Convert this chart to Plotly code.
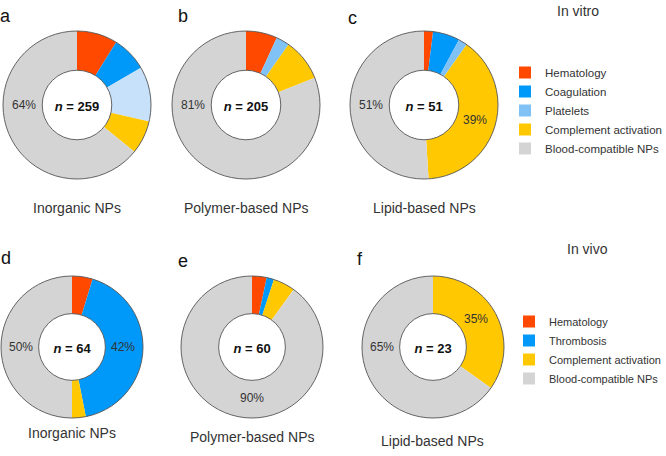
import math
import plotly.graph_objects as go

W, H = 666, 456

# in vitro
vitro_labels = ["Hematology", "Coagulation", "Platelets", "Complement activation", "Blood-compatible NPs"]
vitro_colors = ["#ff4800", "#0099fa", "#80c2f6", "#ffc800", "#d4d4d4"]
a_counts = [23, 20, 31, 19, 166]
b_counts = [14, 0, 6, 19, 166]
c_counts = [1, 3, 1, 20, 26]

# in vivo
vivo_labels = ["Hematology", "Thrombosis", "Complement activation", "Blood-compatible NPs"]
vivo_colors = ["#ff4800", "#0099fa", "#ffc800", "#d4d4d4"]
d_counts = [3, 27, 2, 32]
e_counts = [2, 1, 3, 54]
f_counts = [0, 0, 8, 15]

groups = ["Inorganic NPs", "Polymer-based NPs", "Lipid-based NPs"]

FONT = "Liberation Sans, Arial, sans-serif"
HOLE = 0.47


def dom(cx, cy, d):
    return dict(x=[(cx - d / 2) / W, (cx + d / 2) / W],
                y=[1 - (cy + d / 2) / H, 1 - (cy - d / 2) / H])


def donut(labels, counts, colors, domain, legend):
    return go.Pie(
        labels=labels, values=counts, sort=False, direction="clockwise", rotation=0,
        hole=HOLE, domain=domain, legend=legend, textinfo="none",
        marker=dict(colors=colors, line=dict(width=0)),
        title=dict(text="<b><i>n</i> = %d</b>" % sum(counts), position="middle center",
                   font=dict(size=13, color="#111111", family=FONT)),
    )


def ring(domain):
    return go.Pie(values=[1], labels=["ring"], hole=HOLE, domain=domain, sort=False,
                  marker=dict(colors=["rgba(0,0,0,0)"], line=dict(color="#555555", width=0.9)),
                  textinfo="none", hoverinfo="skip", showlegend=False)


top = [(77, 105), (246, 105), (424, 105)]
bot = [(72, 347), (252, 347), (433, 347)]
DT, DB = 148, 142

# percent labels: (slice index, angle clockwise from top in degrees)
a_lab = [(4, 270)]
b_lab = [(4, 270)]
c_lab = [(4, 270), (3, 106)]
d_lab = [(3, 270), (1, 90)]
e_lab = [(3, 180)]
f_lab = [(3, 270), (2, 57)]

ann = []


def pct_labels(center, d, counts, lab):
    cx, cy = center
    r = d / 2 * 0.72
    for i, ang in lab:
        t = math.radians(ang)
        ann.append(dict(x=(cx + r * math.sin(t)) / W, y=1 - (cy - r * math.cos(t)) / H,
                        text="%d%%" % round(100 * counts[i] / sum(counts)),
                        font=dict(size=12, color="#333333", family=FONT)))


fig = go.Figure()
# c first so the legend takes its colours and order
for (cx, cy), counts, cols, lab in [
    (top[2], c_counts, vitro_colors, c_lab),
    (top[0], a_counts, vitro_colors[:2] + ["#c6e1f9"] + vitro_colors[3:], a_lab),
    (top[1], b_counts, vitro_colors, b_lab),
]:
    fig.add_trace(donut(vitro_labels, counts, cols, dom(cx, cy, DT), "legend"))
    fig.add_trace(ring(dom(cx, cy, DT)))
    pct_labels((cx, cy), DT, counts, lab)

# trailing space keeps the in vivo legend entries separate from the in vitro ones
for (cx, cy), counts, lab in [(bot[0], d_counts, d_lab), (bot[1], e_counts, e_lab),
                              (bot[2], f_counts, f_lab)]:
    fig.add_trace(donut([l + " " for l in vivo_labels], counts, vivo_colors,
                        dom(cx, cy, DB), "legend2"))
    fig.add_trace(ring(dom(cx, cy, DB)))
    pct_labels((cx, cy), DB, counts, lab)

for (cx, cy), name in zip(top, groups):
    ann.append(dict(x=cx / W, y=1 - 208 / H, text=name, font=dict(size=14, color="#333333", family=FONT)))
for (cx, cy), name, yy in zip(bot, groups, [433, 437, 441]):
    ann.append(dict(x=cx / W, y=1 - yy / H, text=name, font=dict(size=14, color="#333333", family=FONT)))

letters = [("a", 5, 16), ("b", 183, 16), ("c", 352, 18), ("d", 6, 258), ("e", 183, 261), ("f", 360, 259)]
for t, x, y in letters:
    ann.append(dict(x=x / W, y=1 - y / H, text=t, font=dict(size=18, color="#111111", family=FONT)))
ann.append(dict(x=578 / W, y=1 - 11 / H, text="In vitro", font=dict(size=14, color="#333333", family=FONT)))
ann.append(dict(x=587 / W, y=1 - 249 / H, text="In vivo", font=dict(size=14, color="#333333", family=FONT)))

for a in ann:
    a.update(xref="paper", yref="paper", showarrow=False, xanchor="center", yanchor="middle")

fig.update_layout(
    width=W, height=H, margin=dict(l=0, r=0, t=0, b=0, autoexpand=False),
    paper_bgcolor="white", plot_bgcolor="white",
    annotations=ann,
    legend=dict(x=505 / W, y=1 - 58 / H, xanchor="left", yanchor="top", itemwidth=30,
                font=dict(size=11.5, color="#333333", family=FONT), bgcolor="rgba(0,0,0,0)"),
    legend2=dict(x=509 / W, y=1 - 307 / H, xanchor="left", yanchor="top", itemwidth=30,
                 font=dict(size=11, color="#333333", family=FONT), bgcolor="rgba(0,0,0,0)"),
)

fig.write_html("out.html", config={"displayModeBar": False},
               post_script="document.body.style.margin='0';")
